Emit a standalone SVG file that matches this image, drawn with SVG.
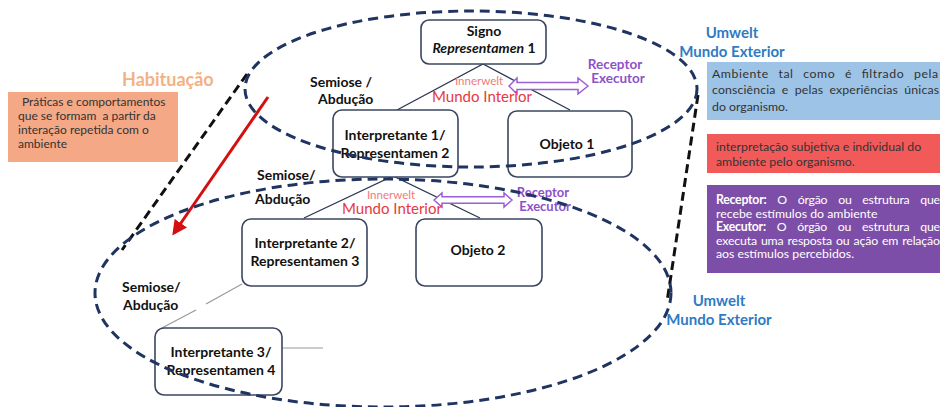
<svg xmlns="http://www.w3.org/2000/svg" width="940" height="407" viewBox="0 0 940 407">
<style>
text{font-family:Lato,"Liberation Sans",sans-serif}
.node{fill:#fff;stroke:#3b4560;stroke-width:1.6}
.nt{font-size:14px;font-weight:bold;fill:#111;text-anchor:middle}
.sem{font-size:14px;font-weight:bold;fill:#111}
.inw{font-size:11.5px;fill:#f07a7a;text-anchor:middle}
.mi{font-size:15px;fill:#e8383d;text-anchor:middle}
.rx{font-size:13.5px;font-weight:bold;fill:#8e52c8;text-anchor:middle}
.rx2{font-size:13px;font-weight:bold;fill:#8e52c8;text-anchor:middle}
.um{font-size:15px;font-weight:bold;fill:#2e7bc4;text-anchor:middle}
.ell{fill:none;stroke:#1f3460;stroke-width:3;stroke-dasharray:10 6}
.blk{fill:none;stroke:#111;stroke-width:3;stroke-dasharray:9 5}
.tri{fill:none;stroke:#2b3550;stroke-width:1.3}
.gry{fill:none;stroke:#999;stroke-width:1.2}
.dar{fill:#fff;stroke:#9b5fd6;stroke-width:1.5}
.ot{font-size:12px;fill:#333}
.bt{font-size:12.3px;fill:#333}
.wt{font-size:12.3px;fill:#fff}
</style>
<defs>
<marker id="ra" viewBox="0 0 10 10" refX="8" refY="5" markerWidth="5" markerHeight="5" orient="auto" markerUnits="strokeWidth">
<path d="M0,0 L10,5 L0,10 z" fill="#d40f0f"/>
</marker>
</defs>

<g id="habituacao">
<text x="122" y="86" font-size="18" font-weight="bold" fill="#f4b183">Habituação</text>
<rect x="8" y="92" width="170" height="70" fill="#f4a886"/>
<text class="ot" x="22" y="106">Práticas e comportamentos</text>
<text class="ot" x="18" y="120" xml:space="preserve">que se formam  a partir da</text>
<text class="ot" x="18" y="134">interação repetida com o</text>
<text class="ot" x="18" y="148">ambiente</text>
</g>

<g id="legend-umwelt">
<rect x="707" y="62" width="233" height="58" fill="#9dc3e6"/>
<text class="bt" x="712" y="78" textLength="226" lengthAdjust="spacing" style="word-spacing:6px">Ambiente tal como é filtrado pela</text>
<text class="bt" x="712" y="94" textLength="227" lengthAdjust="spacing" style="word-spacing:3px">consciência e pelas experiências únicas</text>
<text class="bt" x="712" y="111">do organismo.</text>
</g>
<g id="legend-innerwelt">
<rect x="707" y="134" width="233" height="39" fill="#f25a5a"/>
<text class="bt" x="716" y="151">interpretação subjetiva e individual do</text>
<text class="bt" x="716" y="166">ambiente pelo organismo.</text>
</g>
<g id="legend-receptor">
<rect x="707" y="185" width="233" height="88" fill="#7d4ea8"/>
<text class="wt" x="716" y="204" textLength="224" lengthAdjust="spacing" style="word-spacing:8px"><tspan font-weight="bold">Receptor:</tspan> O órgão ou estrutura que</text>
<text class="wt" x="716" y="218">recebe estímulos do ambiente</text>
<text class="wt" x="716" y="231" textLength="224" lengthAdjust="spacing" style="word-spacing:8px"><tspan font-weight="bold">Executor:</tspan> O órgão ou estrutura que</text>
<text class="wt" x="716" y="245" textLength="224" lengthAdjust="spacing" style="word-spacing:1px">executa uma resposta ou ação em relação</text>
<text class="wt" x="716" y="258">aos estímulos percebidos.</text>
</g>

<g id="connectors">
<path class="tri" d="M397,110 L483,64 L570,110"/>
<path class="tri" d="M304,218 L393,176 L480,218"/>
<path class="gry" d="M242,284 L206,304 M196,310 L160,329"/>
<path class="gry" d="M282,348 L323,348"/>
<path class="dar" d="M509,86 L517,78 L517,82.5 L578,82.5 L578,78 L588,86 L578,94 L578,89.5 L517,89.5 L517,94 Z"/>
<path class="dar" d="M434,200 L442,193 L442,196.7 L504,196.7 L504,193 L512,200 L504,207 L504,203.3 L442,203.3 L442,207 Z"/>
<line x1="268" y1="97" x2="174" y2="233" stroke="#d40f0f" stroke-width="3" marker-end="url(#ra)"/>
<path class="blk" d="M247,74 L122,250"/>
<path class="blk" d="M698,95 L667,302"/>
</g>

<g id="signo">
<rect class="node" x="421" y="20" width="125" height="44" rx="8"/>
<text class="nt" x="484" y="36">Signo</text>
<text class="nt" x="484" y="53" font-weight="normal"><tspan font-style="italic" font-weight="bold">Representamen</tspan> 1</text>
</g>
<g id="interpretante1">
<rect class="node" x="333" y="110" width="125" height="67" rx="9"/>
<text class="nt" x="395" y="140">Interpretante 1/</text>
<text class="nt" x="395" y="158">Representamen 2</text>
</g>
<g id="objeto1">
<rect class="node" x="508" y="111" width="124" height="66" rx="9"/>
<text class="nt" x="567" y="149">Objeto 1</text>
</g>
<g id="interpretante2">
<rect class="node" x="242" y="219" width="125" height="67" rx="9"/>
<text class="nt" x="305" y="248">Interpretante 2/</text>
<text class="nt" x="305" y="266">Representamen 3</text>
</g>
<g id="objeto2">
<rect class="node" x="416" y="219" width="126" height="67" rx="9"/>
<text class="nt" x="478" y="255">Objeto 2</text>
</g>
<g id="interpretante3">
<rect class="node" x="155" y="328" width="127" height="67" rx="9"/>
<text class="nt" x="221" y="357">Interpretante 3/</text>
<text class="nt" x="221" y="375">Representamen 4</text>
</g>

<g id="labels">
<text class="sem" x="310" y="87">Semiose /</text>
<text class="sem" x="318" y="104">Abdução</text>
<text class="sem" x="257" y="180">Semiose/</text>
<text class="sem" x="255" y="204">Abdução</text>
<text class="sem" x="122" y="292">Semiose/</text>
<text class="sem" x="123" y="310">Abdução</text>
<text class="inw" x="479" y="85">Innerwelt</text>
<text class="mi" x="482" y="102">Mundo Interior</text>
<text class="inw" x="391" y="199">Innerwelt</text>
<text class="mi" x="392" y="214">Mundo Interior</text>
<text class="rx" x="615" y="69">Receptor</text>
<text class="rx" x="618" y="83">Executor</text>
<text class="rx2" x="543" y="197">Receptor</text>
<text class="rx2" x="545" y="211">Executor</text>
<text class="um" x="732" y="38">Umwelt</text>
<text class="um" x="732" y="57">Mundo Exterior</text>
<text class="um" x="719" y="306">Umwelt</text>
<text class="um" x="719" y="325">Mundo Exterior</text>
</g>

<g id="ellipses">
<ellipse class="ell" cx="471" cy="89" rx="226" ry="78"/>
<ellipse class="ell" cx="383" cy="293" rx="288" ry="114"/>
</g>
</svg>
